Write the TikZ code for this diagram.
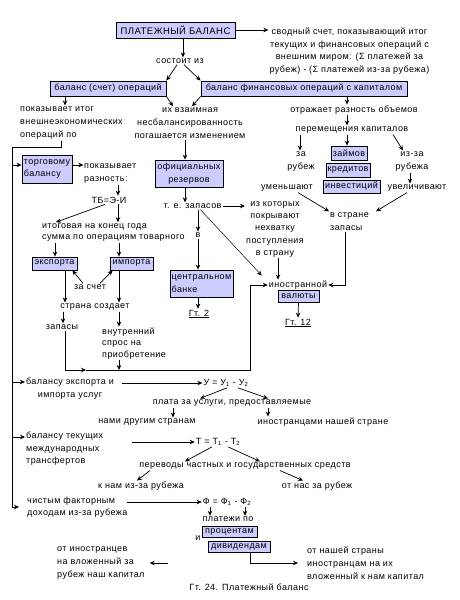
\documentclass[tikz,border=0pt]{standalone}
\usepackage{fontspec}
\setmainfont{Liberation Sans}[LetterSpace=5]
\usetikzlibrary{arrows.meta,calc}
\definecolor{boxblue}{RGB}{204,204,255}
\begin{document}
\begin{tikzpicture}[x=1pt,y=-1pt,
 every node/.style={font=\fontsize{9}{12.5}\selectfont, inner sep=1pt},
 box/.style={draw, fill=boxblue, line width=0.8pt, inner sep=1pt},
 arr/.style={-{Stealth[length=5pt,width=4.5pt]}, line width=0.7pt},
 ln/.style={line width=0.7pt}]
\useasboundingbox (0,0) rectangle (460,600);
% nodes
\node[box, minimum width=119pt, minimum height=16pt, font=\fontsize{9.5}{12}\selectfont] (pb) at (175.5,30) {ПЛАТЕЖНЫЙ БАЛАНС};
\node[align=center, font=\fontsize{9}{12.7}\selectfont] (sv) at (349.5,51) {сводный счет, показывающий итог\\текущих и финансовых операций с\\внешним миром: (Σ платежей за\\рубеж) - (Σ платежей из-за рубежа)};
\node (sost) at (180,61) {состоит из};
\node[box, minimum width=116pt, minimum height=15pt] (bo) at (108,88.5) {баланс (счет) операций};
\node[box, minimum width=206pt, minimum height=15pt] (bf) at (304,88.5) {баланс финансовых операций с капиталом};
\node[align=left, anchor=west, font=\fontsize{9}{13}\selectfont] (pok) at (19,123) {показывает итог\\внешнеэкономических\\операций по};
\node[align=center, font=\fontsize{9}{13}\selectfont] (vz) at (190,123) {их взаимная\\несбалансированность\\погашается изменением};
\node (otr) at (354,110) {отражает разность объемов};
\node (per) at (352,130) {перемещения капиталов};
\node[align=center, font=\fontsize{9}{13}\selectfont] (zar) at (301,161.5) {за\\рубеж};
\node[box, minimum width=36pt, minimum height=14pt] (zaim) at (349,153) {займов};
\node[box, minimum width=44pt, minimum height=14pt] (kred) at (348,170) {кредитов};
\node[box, minimum width=57pt, minimum height=13pt] (inv) at (351.5,186.5) {инвестиций};
\node[align=center, font=\fontsize{9}{13}\selectfont] (izr) at (412,161.5) {из-за\\рубежа};
\node (umen) at (287,188) {уменьшают};
\node (uvel) at (417,188) {увеличивают};
\node[align=left, anchor=west, font=\fontsize{9}{13}\selectfont] (vstr) at (329,221.5) {в стране\\запасы};
\node[box, minimum width=50pt, minimum height=28pt, align=left] (tb) at (47,169) {торговому\\балансу};
\node[align=left, anchor=west, font=\fontsize{9}{13}\selectfont] (pokaz) at (83,173.5) {показывает\\разность:};
\node (tbe) at (109,200) {ТБ=Э-И};
\node[align=left, anchor=west, font=\fontsize{9}{11.5}\selectfont] (itog) at (41,232.5) {итоговая на конец года\\сумма по операциям товарного};
\node[box, minimum width=45pt, minimum height=13pt] (exp) at (54.5,263.5) {экспорта};
\node[box, minimum width=43pt, minimum height=13pt] (imp) at (131.5,263.5) {импорта};
\node (zasch) at (90,287) {за счет};
\node (strana) at (95,307) {страна создает};
\node (zap) at (62,327) {запасы};
\node[align=left, anchor=west, font=\fontsize{9}{11.5}\selectfont] (vnut) at (101,343.5) {внутренний\\спрос на\\приобретение};
\node[box, minimum width=68pt, minimum height=27pt, align=center] (or) at (189,173.5) {официальных\\резервов};
\node (tez) at (192.5,206) {т. е. запасов};
\node[align=center, font=\fontsize{9}{12.2}\selectfont] (izk) at (275,229.5) {из которых\\покрывают\\нехватку\\поступления\\в страну};
\node (vv) at (198,235) {в};
\node[box, minimum width=63pt, minimum height=27pt, align=left] (cb) at (201.5,283.5) {центральном\\банке};
\node (gt2) at (199,314) {\underline{Гт. 2}};
\node (inos) at (298,285) {иностранной};
\node[box, minimum width=41pt, minimum height=12pt] (val) at (298.5,296) {валюты};
\node (gt12) at (298,323) {\underline{Гт. 12}};
\node[align=center, font=\fontsize{9}{13}\selectfont] (bex) at (70,388.5) {балансу экспорта и\\импорта услуг};
\node (U) at (226,383) {У = У\textsubscript{1} - У\textsubscript{2}};
\node (plata) at (232,403) {плата за услуги, предоставляемые};
\node (nami) at (147,422) {нами другим странам};
\node (inost) at (323,422) {иностранцами нашей стране};
\node[align=left, anchor=west] (btek) at (25,449) {балансу текущих\\международных\\трансфертов};
\node (T) at (218,442) {Т = Т\textsubscript{1} - Т\textsubscript{2}};
\node (perev) at (245,466) {переводы частных и государственных средств};
\node (knam) at (141,486) {к нам из-за рубежа};
\node (otnas) at (317,486) {от нас за рубеж};
\node[align=left, anchor=west, font=\fontsize{9}{11.5}\selectfont] (chist) at (26,507) {чистым факторным\\доходам из-за рубежа};
\node (F) at (227,502) {Ф = Ф\textsubscript{1} - Ф\textsubscript{2}};
\node (plat) at (228,519.5) {платежи по};
\node[box, minimum width=55pt, minimum height=11pt] (proc) at (229.5,532) {процентам};
\node (ii) at (198,538) {и};
\node[box, minimum width=62pt, minimum height=11pt] (div) at (239,547) {дивидендам};
\node[align=left, anchor=west, font=\fontsize{9}{13}\selectfont] (otin) at (56,563) {от иностранцев\\на вложенный за\\рубеж наш капитал};
\node[align=left, anchor=west, font=\fontsize{9}{13}\selectfont] (otnash) at (306,563) {от нашей страны\\иностранцам на их\\вложенный к нам капитал};
\node (cap) at (249,587) {Гт. 24. Платежный баланс};
% spine coordinates
\coordinate (s0) at (12,147);
\coordinate (s1) at (12,165);
\coordinate (s2) at (12,382);
\coordinate (s3) at (12,437);
\coordinate (s4) at (12,507);
\coordinate (h0) at (65,370);
\coordinate (h1) at (86,370);
\coordinate (h2) at (250,370);
% connectors
\draw[arr] (pb.east) -- ++(33,0);
\draw[arr] (183,0 |- pb.south) -- (183,0 |- sost.north);
\draw[arr] ([xshift=-3pt]sost.south) -- (bo.north east);
\draw[arr] ([xshift=4pt]sost.south) -- (bf.north west);
\draw[arr] (bo.south east) -- ([xshift=-17pt]vz.north);
\draw[arr] (bf.south west) -- ([xshift=2pt]vz.north);
\draw[arr] (65,0 |- bo.south) -- (65,0 |- pok.north);
\draw[arr] (347,0 |- bf.south) -- (347,0 |- otr.north);
\draw[arr] (347,0 |- otr.south) -- (347,0 |- per.north);
\draw[arr] (300,0 |- per.south) -- (300,0 |- zar.north);
\draw[arr] (347,0 |- per.south) -- (347,0 |- zaim.north);
\draw[arr] (393,0 |- per.south) -- ([xshift=-9pt]izr.north);
\draw[arr] (410,0 |- izr.south) -- (410,0 |- uvel.north);
\draw[arr] ([xshift=11pt]umen.south) -- (vstr.north west);
\draw[arr] ([xshift=-10pt]uvel.south) -- ([xshift=47pt]vstr.north west);
\draw[arr] (345,0 |- vstr.south) |- (inos.east);
\draw[arr] (185,0 |- vz.south) -- (185,0 |- or.north);
\draw[arr] (185,0 |- or.south) -- (185,0 |- tez.north);
\draw[arr] (tez.east) -- (izk.west |- tez.east);
\draw[arr, line width=0.5pt] ([xshift=8pt]tez.south) -- ([xshift=-6pt,yshift=4pt]inos.north west);
\draw[arr] (198,0 |- tez.south) -- (vv.north);
\draw[arr] (vv.south) -- (198,0 |- cb.north);
\draw[arr] (198,0 |- cb.south) -- (198,0 |- gt2.north);
\draw[arr] (278,0 |- izk.south) -- (278,0 |- inos.north);
\draw[arr] (val.south) -- (gt12.north);
% left spine
\draw[ln] (61,0 |- pok.south) |- (s0) -- (s4);
\draw[arr] ([yshift=4pt]tb.east) -- ++(11,0);
\draw[arr] (s1) -- (tb.west |- s1);
\draw[arr] (s2) -- (bex.west |- s2);
\draw[arr] (s3) -- (btek.west |- s3);
\draw[arr] (s4) -- ++(7,0);
\draw[arr] (118,0 |- pokaz.south) -- (118,0 |- tbe.north);
\draw[arr] ([xshift=-4pt]tbe.south) -- ([xshift=15pt]itog.north west);
\draw[arr] (118,0 |- tbe.south) -- (118,0 |- itog.north);
\draw[arr] (55,0 |- itog.south) -- (55,0 |- exp.north);
\draw[arr] (119,0 |- itog.south) -- (119,0 |- imp.north);
\draw[arr] ([xshift=-7pt]zasch.north) -- ([xshift=-5pt]exp.south east);
\draw[arr] ([xshift=10pt]zasch.north) -- ([xshift=3pt]imp.south west);
\draw[arr] (65,0 |- exp.south) -- (65,0 |- strana.north);
\draw[arr] (119,0 |- imp.south) -- (119,0 |- strana.north);
\draw[arr] (63,0 |- strana.south) -- (63,0 |- zap.north);
\draw[arr] (119,0 |- strana.south) -- (119,0 |- vnut.north);
\draw[ln] (65,0 |- zap.south) -- (h0);
\draw[arr] (h0) -- (h1);
\draw[ln] (h1) -- (h2) -- (h2 |- inos.west);
\draw[arr] (h2 |- inos.west) -- (inos.west);
\draw[arr] (119,0 |- vnut.south) -- (119,0 |- h0);
% lower part
\draw[arr] (122,0 |- U.west) -- (U.west);
\draw[arr] ([xshift=1pt]U.south) -- ([xshift=-32pt]plata.north);
\draw[arr] ([xshift=12pt]U.south) -- ([xshift=36pt]plata.north);
\draw[arr] (173,0 |- plata.south) -- (173,0 |- nami.north);
\draw[arr] (268,0 |- plata.south) -- (268,0 |- inost.north);
\draw[arr] (132,0 |- T.west) -- (T.west);
\draw[arr] ([xshift=-6pt]T.south) -- ([xshift=-60pt]perev.north);
\draw[arr] ([xshift=10pt]T.south) -- ([xshift=15pt]perev.north);
\draw[arr] ([xshift=-95pt]perev.south) -- ([xshift=-4pt]knam.north);
\draw[arr] ([xshift=35pt]perev.south) -- ([xshift=-14pt]otnas.north);
\draw[arr] (127,0 |- F.west) -- (F.west);
\draw[arr] (210,0 |- F.south) -- (210,0 |- plat.north);
\draw[arr] (245,0 |- F.south) -- (245,0 |- plat.north);
\draw[arr] (250,0 |- div.south) |- ([xshift=-8pt]otnash.west);
\draw[arr] ([xshift=22pt]otin.east) -- ([xshift=4pt]otin.east);
\end{tikzpicture}
\end{document}
